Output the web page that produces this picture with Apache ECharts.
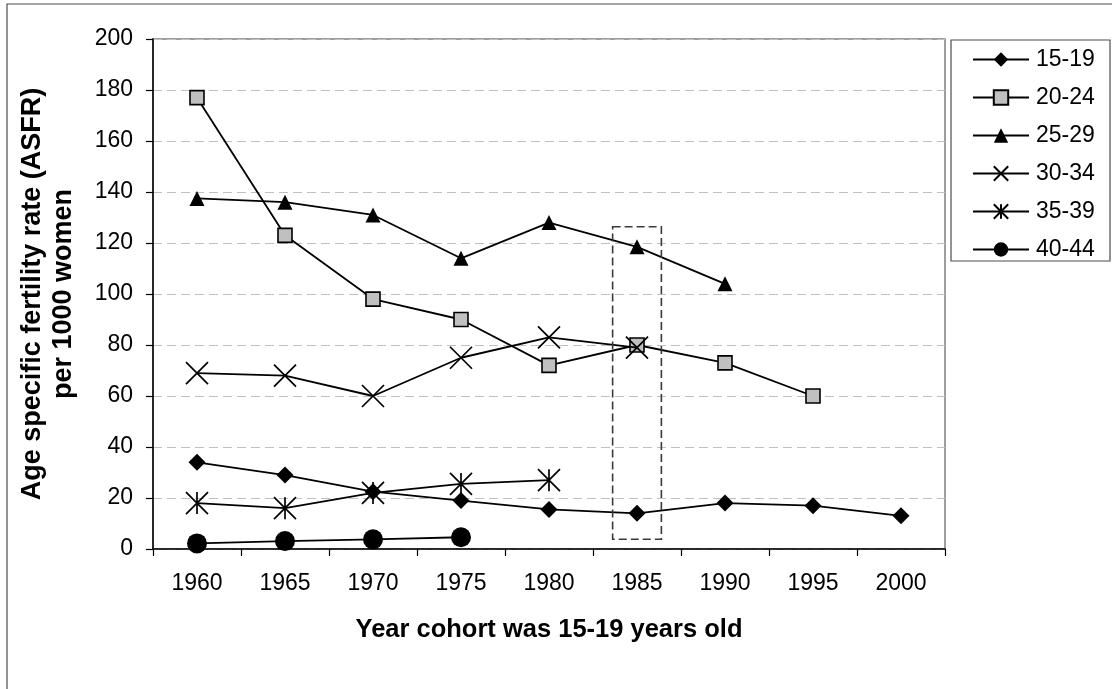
<!DOCTYPE html>
<html>
<head>
<meta charset="utf-8">
<style>
  html, body { margin: 0; padding: 0; background: #ffffff; }
  #chart { width: 1112px; height: 689px; }
</style>
<script src="https://cdn.jsdelivr.net/npm/echarts@6/dist/echarts.min.js"></script>
</head>
<body>
<div id="chart"></div>
<script>
// Cohort years (year in which each cohort was aged 15-19)
const cohortYears = ['1960', '1965', '1970', '1975', '1980', '1985', '1990', '1995', '2000'];

// Age specific fertility rates per 1000 women, one array per age group
const asfr1519 = [34, 29, 22.5, 19, 15.5, 14, 18, 17, 13];
const asfr2024 = [177, 123, 98, 90, 72, 80, 73, 60, null];
const asfr2529 = [137.5, 136, 131, 114, 128, 118.5, 104, null, null];
const asfr3034 = [69, 68, 60, 75, 83, 79, null, null, null];
const asfr3539 = [18, 16, 22, 25.5, 27, null, null, null, null];
const asfr4044 = [2.2, 3.1, 3.8, 4.6, null, null, null, null, null];

// Age group names shown in the legend
const ageGroups = ['15-19', '20-24', '25-29', '30-34', '35-39', '40-44'];

// Y axis scale
const yMin = 0;
const yMax = 200;
const yStep = 20;

// Highlighted cohort (dashed box) and the value range it spans
const boxCategory = '1985';
const boxTop = 126.4;
const boxBottom = 3.8;

const FONT = "'Liberation Sans', Arial, sans-serif";

const crossPath = 'path://M0 0L20 20M20 0L0 20';
const starPath = 'path://M0 0L20 20M20 0L0 20M10 0L10 20';

const symbols = [
  { symbol: 'diamond', size: 17, fill: '#000000', border: 0 },
  { symbol: 'rect', size: 14, fill: '#c0c0c0', border: 1.6 },
  { symbol: 'triangle', size: 15, fill: '#000000', border: 0 },
  { symbol: crossPath, size: 22, fill: 'none', border: 1.7 },
  { symbol: starPath, size: 22, fill: 'none', border: 1.7 },
  { symbol: 'circle', size: 20, fill: '#000000', border: 0 }
];

const seriesValues = [asfr1519, asfr2024, asfr2529, asfr3034, asfr3539, asfr4044];

const series = seriesValues.map(function (vals, i) {
  const s = symbols[i];
  return {
    name: ageGroups[i],
    type: 'line',
    data: vals,
    connectNulls: false,
    symbol: s.symbol,
    symbolSize: s.size,
    showAllSymbol: true,
    lineStyle: { color: '#000000', width: 1.8 },
    itemStyle: {
      color: s.fill,
      borderColor: '#000000',
      borderWidth: s.border
    },
    emphasis: { disabled: true },
    z: 3 + i
  };
});

const chart = echarts.init(document.getElementById('chart'), null, { renderer: 'canvas' });

chart.setOption({
  animation: false,
  backgroundColor: '#ffffff',
  textStyle: { fontFamily: FONT },
  grid: {
    left: 153,
    right: 167,
    top: 39,
    bottom: 140,
    containLabel: false,
    outerBoundsMode: 'none',
    show: true,
    borderColor: '#7f7f7f',
    borderWidth: 1.5,
    backgroundColor: 'transparent'
  },
  legend: {
    show: true,
    orient: 'vertical',
    left: 972,
    top: 48,
    padding: 0,
    itemWidth: 56,
    itemHeight: 18,
    itemGap: 15,
    data: ageGroups,
    textStyle: { fontFamily: FONT, fontSize: 23, color: '#000000', padding: [0, 0, 0, 2] },
    inactiveColor: '#000000'
  },
  tooltip: { show: false },
  xAxis: {
    type: 'category',
    data: cohortYears,
    boundaryGap: true,
    name: 'Year cohort was 15-19 years old',
    nameLocation: 'middle',
    nameGap: 68,
    nameTextStyle: { fontFamily: FONT, fontSize: 25.5, fontWeight: 'bold', color: '#000000' },
    axisLine: { show: true, onZero: false, lineStyle: { color: '#000000', width: 1.5 } },
    axisTick: { show: true, length: 7, alignWithLabel: false, lineStyle: { color: '#000000', width: 1.2 } },
    axisLabel: { fontFamily: FONT, fontSize: 23, color: '#000000', margin: 23 },
    splitLine: { show: false }
  },
  yAxis: {
    type: 'value',
    min: yMin,
    max: yMax,
    interval: yStep,
    name: 'Age specific fertility rate (ASFR)\nper 1000 women',
    nameLocation: 'middle',
    nameRotate: 90,
    nameGap: 74,
    nameTextStyle: { fontFamily: FONT, fontSize: 27, fontWeight: 'bold', color: '#000000', lineHeight: 31, align: 'center' },
    axisLine: { show: true, lineStyle: { color: '#000000', width: 1.5 } },
    axisTick: { show: true, length: 7, lineStyle: { color: '#000000', width: 1.2 } },
    axisLabel: { fontFamily: FONT, fontSize: 23, color: '#000000', margin: 20 },
    splitLine: { show: true, lineStyle: { color: '#c0c0c0', width: 1, type: [9, 5] } }
  },
  series: series
});

// Outer chart frame and legend box, plus the dashed highlight around one cohort
function drawOverlays() {
  const catIndex = cohortYears.indexOf(boxCategory);
  const pCenterTop = chart.convertToPixel({ gridIndex: 0 }, [catIndex, boxTop]);
  const pBottom = chart.convertToPixel({ gridIndex: 0 }, [catIndex, boxBottom]);
  const pNext = chart.convertToPixel({ gridIndex: 0 }, [catIndex + 1, boxTop]);
  const catWidth = pNext[0] - pCenterTop[0];
  const halfW = catWidth * 0.277;

  chart.setOption({
    graphic: [
      {
        type: 'rect',
        id: 'frame',
        shape: { x: 7, y: 4, width: 1300, height: 1000 },
        style: { fill: 'none', stroke: '#4d4d4d', lineWidth: 1.2 },
        silent: true,
        z: 0
      },
      {
        type: 'rect',
        id: 'legendBox',
        shape: { x: 951, y: 40, width: 159, height: 221 },
        style: { fill: 'none', stroke: '#4d4d4d', lineWidth: 1.2 },
        silent: true,
        z: 0
      },
      {
        type: 'rect',
        id: 'highlight',
        shape: {
          x: pCenterTop[0] - halfW,
          y: pCenterTop[1],
          width: halfW * 2,
          height: pBottom[1] - pCenterTop[1]
        },
        style: { fill: 'none', stroke: '#3a3a3a', lineWidth: 1.6, lineDash: [8, 4] },
        silent: true,
        z: 10
      }
    ]
  });
}

drawOverlays();
</script>
</body>
</html>
